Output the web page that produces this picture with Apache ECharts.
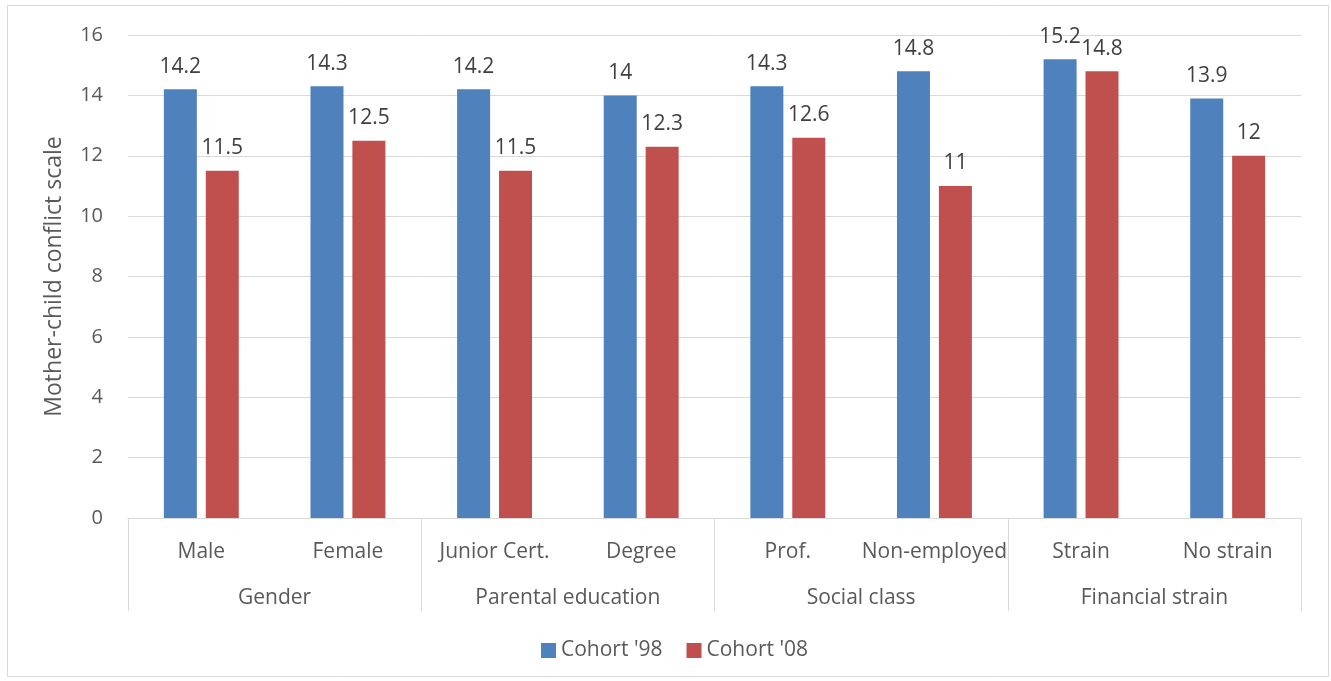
<!DOCTYPE html>
<html><head><meta charset="utf-8">
<script src="https://cdn.jsdelivr.net/npm/echarts@6/dist/echarts.min.js"></script>
<style>html,body{margin:0;padding:0;background:#fff}#c{width:1331px;height:681px}</style>
</head><body><div id="c"></div>
<script>
const categories = ['Male','Female','Junior Cert.','Degree','Prof.','Non-employed','Strain','No strain'];
const groups = ['Gender','Parental education','Social class','Financial strain'];
const cohort98 = [14.2,14.3,14.2,14.0,14.3,14.8,15.2,13.9];
const cohort08 = [11.5,12.5,11.5,12.3,12.6,11.0,14.8,12.0];
const seriesNames = ["Cohort '98","Cohort '08"];
const yTitle = 'Mother-child conflict scale';

const FONT = '"Open Sans", sans-serif';
const chart = echarts.init(document.getElementById('c'));
const lbl = {show:true, position:'top', distance:12, color:'#404040', fontSize:21, fontFamily:FONT,
  formatter: p => String(p.value)};
chart.setOption({
  animation:false,
  textStyle:{fontFamily:FONT},
  graphic:[{type:'rect', shape:{x:7.5,y:5.5,width:1321,height:671}, style:{fill:null, stroke:'#d9d9d9', lineWidth:1}, silent:true}],
  legend:{data:seriesNames, bottom:15, left:536, itemWidth:15, itemHeight:15, itemGap:24,
    icon:'rect', textStyle:{color:'#595959', fontSize:21, fontFamily:FONT}},
  grid:{left:128, right:30, top:35, bottom:163},
  xAxis:[
    {type:'category', data:categories, position:'bottom',
     axisLine:{show:true, lineStyle:{color:'#d9d9d9'}}, axisTick:{show:false},
     axisLabel:{color:'#595959', fontSize:21, fontFamily:FONT, margin:24, interval:0}},
    {type:'category', data:groups, position:'bottom',
     axisLine:{show:false}, axisTick:{show:true, length:93, lineStyle:{color:'#d9d9d9'}, interval:0},
     axisLabel:{color:'#595959', fontSize:21, fontFamily:FONT, margin:70, interval:0}}
  ],
  yAxis:{type:'value', min:0, max:16, interval:2,
    name:yTitle, nameLocation:'middle', nameGap:62, nameRotate:90,
    nameTextStyle:{color:'#595959', fontSize:23, fontFamily:FONT},
    axisLine:{show:false}, axisTick:{show:false},
    axisLabel:{color:'#595959', fontSize:20, fontFamily:FONT, margin:25},
    splitLine:{lineStyle:{color:'#d9d9d9'}}},
  series:[
    {name:seriesNames[0], type:'bar', data:cohort98, xAxisIndex:0, barWidth:33, barGap:'27%',
     itemStyle:{color:'#4f81bd'}, label:lbl},
    {name:seriesNames[1], type:'bar', data:cohort08, xAxisIndex:0, barWidth:33, barGap:'27%',
     itemStyle:{color:'#c0504d'}, label:lbl}
  ]
});
</script></body></html>
